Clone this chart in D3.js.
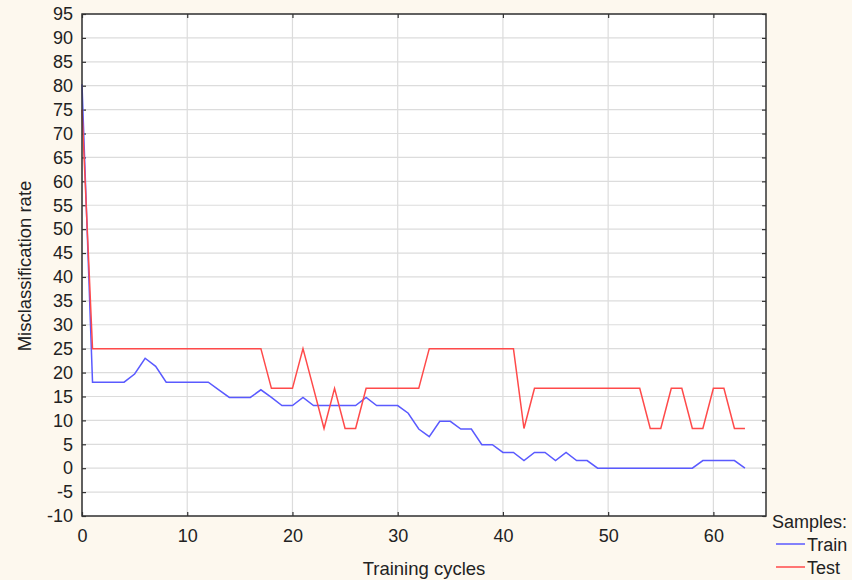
<!DOCTYPE html>
<html>
<head>
<meta charset="utf-8">
<script src="https://cdn.jsdelivr.net/npm/d3@7"></script>
<style>
  body { margin: 0; background: #fdf8ee; }
  svg { display: block; font-family: "Liberation Sans", Arial, sans-serif; }
</style>
</head>
<body>
<svg id="chart" width="852" height="580"></svg>
<script>
// training cycles 0..63
const cycles = d3.range(0, 64);
// misclassification rate (%) per cycle
const trainRate = [80.3, 18.0, 18.0, 18.0, 18.0, 19.7, 23.0, 21.3, 18.0, 18.0,
  18.0, 18.0, 18.0, 16.4, 14.8, 14.8, 14.8, 16.4, 14.8, 13.1,
  13.1, 14.8, 13.1, 13.1, 13.1, 13.1, 13.1, 14.8, 13.1, 13.1,
  13.1, 11.5, 8.2, 6.6, 9.8, 9.8, 8.2, 8.2, 4.9, 4.9,
  3.3, 3.3, 1.6, 3.3, 3.3, 1.6, 3.3, 1.6, 1.6, 0,
  0, 0, 0, 0, 0, 0, 0, 0, 0, 1.6,
  1.6, 1.6, 1.6, 0];
const testRate = [75.0, 25.0, 25.0, 25.0, 25.0, 25.0, 25.0, 25.0, 25.0, 25.0,
  25.0, 25.0, 25.0, 25.0, 25.0, 25.0, 25.0, 25.0, 16.7, 16.7,
  16.7, 25.0, 16.7, 8.3, 16.7, 8.3, 8.3, 16.7, 16.7, 16.7,
  16.7, 16.7, 16.7, 25.0, 25.0, 25.0, 25.0, 25.0, 25.0, 25.0,
  25.0, 25.0, 8.3, 16.7, 16.7, 16.7, 16.7, 16.7, 16.7, 16.7,
  16.7, 16.7, 16.7, 16.7, 8.3, 8.3, 16.7, 16.7, 8.3, 8.3,
  16.7, 16.7, 8.3, 8.3];
const xTicks = [0, 10, 20, 30, 40, 50, 60];
const yTicks = d3.range(-10, 96, 5);
const seriesNames = ['Train', 'Test'];
const seriesColours = ['#5a5aff', '#ff4a4a'];

const margin = { top: 14, right: 86, bottom: 64, left: 82 };
const width = 852 - margin.left - margin.right;
const height = 580 - margin.top - margin.bottom;
const fontSize = '18px';

const svg = d3.select('#chart');
const g = svg.append('g')
  .attr('transform', `translate(${margin.left},${margin.top})`);

const x = d3.scaleLinear().domain([0, 65]).range([0, width]);
const y = d3.scaleLinear().domain([-10, 95]).range([height, 0]);

g.append('rect')
  .attr('width', width)
  .attr('height', height)
  .attr('fill', '#fff');

// grid
g.append('g')
  .selectAll('line')
  .data(yTicks)
  .join('line')
  .attr('x1', 0).attr('x2', width)
  .attr('y1', d => y(d)).attr('y2', d => y(d))
  .attr('stroke', '#dcdcdc').attr('stroke-width', 1.2);

g.append('g')
  .selectAll('line')
  .data(xTicks)
  .join('line')
  .attr('x1', d => x(d)).attr('x2', d => x(d))
  .attr('y1', 0).attr('y2', height)
  .attr('stroke', '#dcdcdc').attr('stroke-width', 1.2);

// axes with inward ticks
const styleAxis = (sel) => {
  sel.select('.domain').remove();
  sel.selectAll('.tick line').attr('stroke', '#333').attr('stroke-width', 1.2);
  sel.selectAll('.tick text').attr('fill', '#222').style('font-size', fontSize);
};

g.append('g')
  .call(d3.axisLeft(y).tickValues(yTicks).tickSizeInner(-4).tickSizeOuter(0)
    .tickPadding(9).tickFormat(d => String(d)))
  .call(styleAxis);

g.append('g')
  .attr('transform', `translate(${width},0)`)
  .call(d3.axisRight(y).tickValues(yTicks).tickSizeInner(-4).tickSizeOuter(0).tickFormat(''))
  .call(styleAxis);

g.append('g')
  .attr('transform', `translate(0,${height})`)
  .call(d3.axisBottom(x).tickValues(xTicks).tickSizeInner(-4).tickSizeOuter(0)
    .tickPadding(13).tickFormat(d => String(d)))
  .call(styleAxis);

g.append('g')
  .call(d3.axisTop(x).tickValues(xTicks).tickSizeInner(-4).tickSizeOuter(0).tickFormat(''))
  .call(styleAxis);

// lines
const line = d3.line()
  .x((d, i) => x(cycles[i]))
  .y(d => y(d));

[trainRate, testRate].forEach((series, i) => {
  g.append('path')
    .datum(series)
    .attr('fill', 'none')
    .attr('stroke', seriesColours[i])
    .attr('stroke-width', 1.5)
    .attr('d', line);
});

// frame
g.append('rect')
  .attr('width', width)
  .attr('height', height)
  .attr('fill', 'none')
  .attr('stroke', '#333')
  .attr('stroke-width', 1.5);

// axis titles
svg.append('text')
  .attr('x', margin.left + width / 2)
  .attr('y', 575)
  .attr('text-anchor', 'middle')
  .style('font-size', '18.5px')
  .attr('fill', '#222')
  .text('Training cycles');

svg.append('text')
  .attr('transform', 'translate(31,266) rotate(-90)')
  .attr('text-anchor', 'middle')
  .style('font-size', '18.5px')
  .attr('fill', '#222')
  .text('Misclassification rate');

// legend
const legend = svg.append('g').attr('transform', 'translate(772,528)');
legend.append('text')
  .style('font-size', fontSize)
  .attr('fill', '#222')
  .text('Samples:');

const item = legend.selectAll('.item')
  .data(seriesNames)
  .join('g')
  .attr('class', 'item')
  .attr('transform', (d, i) => `translate(0,${16 + i * 23})`);

item.append('line')
  .attr('x1', 4).attr('x2', 33)
  .attr('y1', 0).attr('y2', 0)
  .attr('stroke', (d, i) => seriesColours[i])
  .attr('stroke-width', 1.5);

item.append('text')
  .attr('x', 35)
  .attr('y', 7)
  .style('font-size', fontSize)
  .attr('fill', '#222')
  .text(d => d);
</script>
</body>
</html>
